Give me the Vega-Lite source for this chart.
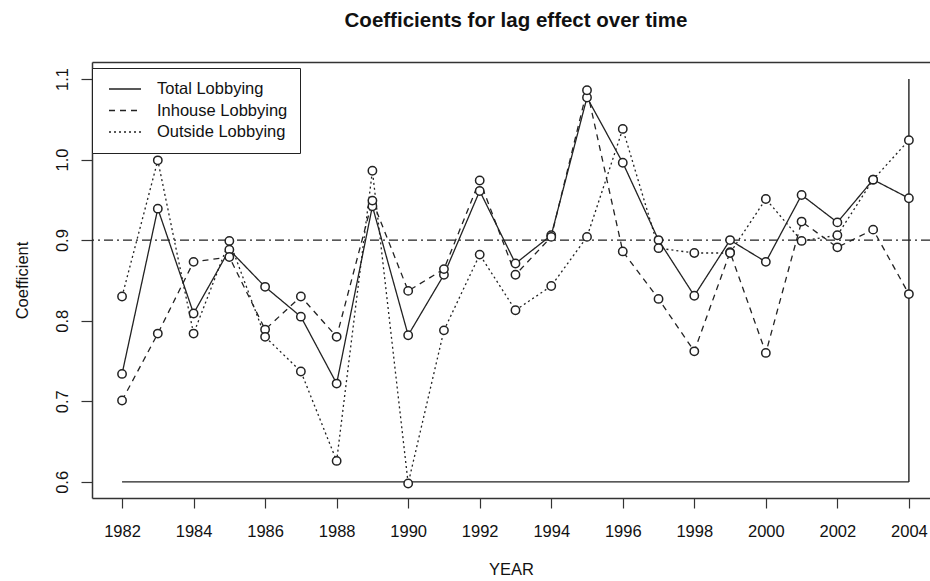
{
  "$schema": "https://vega.github.io/schema/vega-lite/v6.json",
  "width": 838,
  "height": 436,
  "autosize": {"type": "none"},
  "padding": {"left": 92, "top": 62, "right": 0, "bottom": 83},
  "background": "white",
  "title": {
    "text": "Coefficients for lag effect over time",
    "fontSize": 20.5,
    "fontWeight": "bold",
    "font": "Liberation Sans",
    "color": "#111",
    "anchor": "middle",
    "baseline": "alphabetic",
    "offset": 15,
    "dx": 5
  },
  "config": {
    "font": "Liberation Sans",
    "view": {"stroke": null},
    "axis": {
      "grid": false,
      "domainColor": "#333",
      "domainWidth": 1.5,
      "tickColor": "#333",
      "tickWidth": 1.2,
      "labelColor": "#111",
      "titleColor": "#111",
      "labelFontSize": 16.5,
      "titleFontSize": 16.5,
      "titleFontWeight": "normal",
      "labelFlush": false,
      "labelOverlap": false
    }
  },
  "datasets": {
    "coef": [
      {"year": 1982, "series": "Total Lobbying", "value": 0.734},
      {"year": 1983, "series": "Total Lobbying", "value": 0.939},
      {"year": 1984, "series": "Total Lobbying", "value": 0.809},
      {"year": 1985, "series": "Total Lobbying", "value": 0.888},
      {"year": 1986, "series": "Total Lobbying", "value": 0.842},
      {"year": 1987, "series": "Total Lobbying", "value": 0.805},
      {"year": 1988, "series": "Total Lobbying", "value": 0.722},
      {"year": 1989, "series": "Total Lobbying", "value": 0.942},
      {"year": 1990, "series": "Total Lobbying", "value": 0.782},
      {"year": 1991, "series": "Total Lobbying", "value": 0.857},
      {"year": 1992, "series": "Total Lobbying", "value": 0.961},
      {"year": 1993, "series": "Total Lobbying", "value": 0.871},
      {"year": 1994, "series": "Total Lobbying", "value": 0.906},
      {"year": 1995, "series": "Total Lobbying", "value": 1.077},
      {"year": 1996, "series": "Total Lobbying", "value": 0.996},
      {"year": 1997, "series": "Total Lobbying", "value": 0.900},
      {"year": 1998, "series": "Total Lobbying", "value": 0.831},
      {"year": 1999, "series": "Total Lobbying", "value": 0.900},
      {"year": 2000, "series": "Total Lobbying", "value": 0.873},
      {"year": 2001, "series": "Total Lobbying", "value": 0.956},
      {"year": 2002, "series": "Total Lobbying", "value": 0.922},
      {"year": 2003, "series": "Total Lobbying", "value": 0.975},
      {"year": 2004, "series": "Total Lobbying", "value": 0.952},
      {"year": 1982, "series": "Inhouse Lobbying", "value": 0.701},
      {"year": 1983, "series": "Inhouse Lobbying", "value": 0.784},
      {"year": 1984, "series": "Inhouse Lobbying", "value": 0.873},
      {"year": 1985, "series": "Inhouse Lobbying", "value": 0.879},
      {"year": 1986, "series": "Inhouse Lobbying", "value": 0.789},
      {"year": 1987, "series": "Inhouse Lobbying", "value": 0.830},
      {"year": 1988, "series": "Inhouse Lobbying", "value": 0.780},
      {"year": 1989, "series": "Inhouse Lobbying", "value": 0.949},
      {"year": 1990, "series": "Inhouse Lobbying", "value": 0.837},
      {"year": 1991, "series": "Inhouse Lobbying", "value": 0.864},
      {"year": 1992, "series": "Inhouse Lobbying", "value": 0.974},
      {"year": 1993, "series": "Inhouse Lobbying", "value": 0.857},
      {"year": 1994, "series": "Inhouse Lobbying", "value": 0.904},
      {"year": 1995, "series": "Inhouse Lobbying", "value": 1.086},
      {"year": 1996, "series": "Inhouse Lobbying", "value": 0.886},
      {"year": 1997, "series": "Inhouse Lobbying", "value": 0.827},
      {"year": 1998, "series": "Inhouse Lobbying", "value": 0.762},
      {"year": 1999, "series": "Inhouse Lobbying", "value": 0.885},
      {"year": 2000, "series": "Inhouse Lobbying", "value": 0.760},
      {"year": 2001, "series": "Inhouse Lobbying", "value": 0.923},
      {"year": 2002, "series": "Inhouse Lobbying", "value": 0.891},
      {"year": 2003, "series": "Inhouse Lobbying", "value": 0.913},
      {"year": 2004, "series": "Inhouse Lobbying", "value": 0.833},
      {"year": 1982, "series": "Outside Lobbying", "value": 0.830},
      {"year": 1983, "series": "Outside Lobbying", "value": 0.999},
      {"year": 1984, "series": "Outside Lobbying", "value": 0.784},
      {"year": 1985, "series": "Outside Lobbying", "value": 0.899},
      {"year": 1986, "series": "Outside Lobbying", "value": 0.780},
      {"year": 1987, "series": "Outside Lobbying", "value": 0.737},
      {"year": 1988, "series": "Outside Lobbying", "value": 0.626},
      {"year": 1989, "series": "Outside Lobbying", "value": 0.986},
      {"year": 1990, "series": "Outside Lobbying", "value": 0.598},
      {"year": 1991, "series": "Outside Lobbying", "value": 0.788},
      {"year": 1992, "series": "Outside Lobbying", "value": 0.882},
      {"year": 1993, "series": "Outside Lobbying", "value": 0.813},
      {"year": 1994, "series": "Outside Lobbying", "value": 0.843},
      {"year": 1995, "series": "Outside Lobbying", "value": 0.904},
      {"year": 1996, "series": "Outside Lobbying", "value": 1.038},
      {"year": 1997, "series": "Outside Lobbying", "value": 0.890},
      {"year": 1998, "series": "Outside Lobbying", "value": 0.884},
      {"year": 1999, "series": "Outside Lobbying", "value": 0.884},
      {"year": 2000, "series": "Outside Lobbying", "value": 0.951},
      {"year": 2001, "series": "Outside Lobbying", "value": 0.899},
      {"year": 2002, "series": "Outside Lobbying", "value": 0.906},
      {"year": 2003, "series": "Outside Lobbying", "value": 0.975},
      {"year": 2004, "series": "Outside Lobbying", "value": 1.024}
    ],
    "segs": [
      {"x": 1982, "x2": 2004, "y": 0.6, "y2": 0.6},
      {"x": 2004, "x2": 2004, "y": 0.6, "y2": 1.1}
    ],
    "ref": [{"level": 0.9}]
  },
  "layer": [
    {
      "data": {"name": "ref"},
      "mark": {"type": "rule", "color": "#222", "strokeWidth": 1.3, "strokeDash": [9, 4, 2, 4]},
      "encoding": {
        "y": {"field": "level", "type": "quantitative", "scale": {"domain": [0.58, 1.121], "nice": false, "zero": false}}
      }
    },
    {
      "data": {"name": "segs"},
      "mark": {"type": "rule", "color": "#222", "strokeWidth": 1.4},
      "encoding": {
        "x": {
          "field": "x", "type": "quantitative",
          "scale": {"domain": [1981.16, 2004.59], "nice": false, "zero": false},
          "axis": {"orient": "top", "labels": false, "ticks": false, "domain": true, "title": null}
        },
        "x2": {"field": "x2"},
        "y": {"field": "y", "type": "quantitative", "scale": {"domain": [0.58, 1.121], "nice": false, "zero": false}},
        "y2": {"field": "y2"}
      }
    },
    {
      "data": {"name": "coef"},
      "mark": {"type": "line", "color": "#222", "strokeWidth": 1.3},
      "encoding": {
        "x": {
          "field": "year", "type": "quantitative",
          "scale": {"domain": [1981.16, 2004.59], "nice": false, "zero": false},
          "axis": {
            "orient": "bottom",
            "values": [1982, 1984, 1986, 1988, 1990, 1992, 1994, 1996, 1998, 2000, 2002, 2004],
            "format": "d",
            "tickSize": 10,
            "labelPadding": 15,
            "title": "YEAR",
            "titlePadding": 22
          }
        },
        "y": {
          "field": "value", "type": "quantitative",
          "scale": {"domain": [0.58, 1.121], "nice": false, "zero": false},
          "axis": {
            "values": [0.6, 0.7, 0.8, 0.9, 1.0, 1.1],
            "format": ".1f",
            "tickSize": 11,
            "labelAngle": -90,
            "labelAlign": "center",
            "labelBaseline": "bottom",
            "labelPadding": 11,
            "title": "Coefficient",
            "titlePadding": 24
          }
        },
        "strokeDash": {
          "field": "series", "type": "nominal",
          "scale": {
            "domain": ["Total Lobbying", "Inhouse Lobbying", "Outside Lobbying"],
            "range": [[1, 0], [6, 5], [2, 3]]
          },
          "legend": {
            "title": null,
            "orient": "none",
            "legendX": 0,
            "legendY": 6,
            "padding": 12,
            "strokeColor": "#222",
            "fillColor": "white",
            "symbolType": "M-0.5,0H3.5",
            "symbolSize": 256,
            "symbolStrokeWidth": 1.3,
            "symbolStrokeColor": "#222",
            "symbolFillColor": "transparent",
            "labelFontSize": 16.5,
            "labelColor": "#111",
            "labelOffset": 35,
            "rowPadding": 3.5
          }
        }
      }
    },
    {
      "data": {"name": "coef"},
      "mark": {"type": "point", "shape": "circle", "size": 70, "filled": false, "fill": "white", "stroke": "#222", "strokeWidth": 1.5, "opacity": 1},
      "encoding": {
        "x": {"field": "year", "type": "quantitative", "scale": {"domain": [1981.16, 2004.59], "nice": false, "zero": false}, "axis": null},
        "y": {"field": "value", "type": "quantitative", "scale": {"domain": [0.58, 1.121], "nice": false, "zero": false}}
      }
    }
  ],
  "resolve": {"axis": {"x": "independent"}}
}
